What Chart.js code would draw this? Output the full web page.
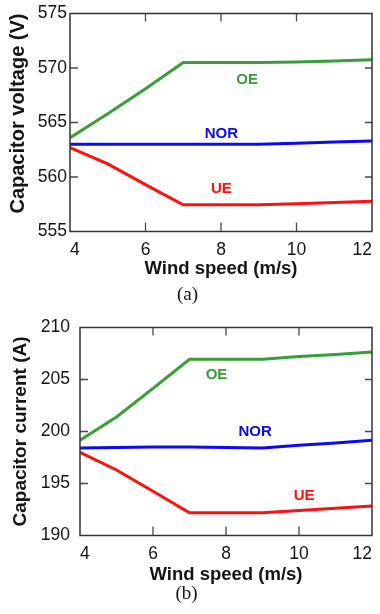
<!DOCTYPE html>
<html>
<head>
<meta charset="utf-8">
<script src="https://cdn.jsdelivr.net/npm/chart.js@4/dist/chart.umd.min.js"></script>
<style>
    body { margin: 0; background: #fff; }
    canvas { display: block; }
</style>
</head>
<body>
<canvas id="voltageChart" width="380" height="307"></canvas>
<canvas id="currentChart" width="380" height="307"></canvas>
<script>
// Wind speed on the x axis, shared by both panels
const windSpeed = [4, 5, 6, 7, 8, 9, 10, 11, 12];
const speedTicks = [4, 6, 8, 10, 12];

// (a) capacitor voltage, V
const voltageOE  = [563.6, 565.8, 568.1, 570.5, 570.5, 570.5, 570.55, 570.65, 570.75];
const voltageNOR = [563.0, 563.0, 563.0, 563.0, 563.0, 563.0, 563.1, 563.2, 563.3];
const voltageUE  = [562.7, 561.2, 559.3, 557.45, 557.45, 557.45, 557.55, 557.67, 557.78];
const voltageTicks = [555, 560, 565, 570, 575];

// (b) capacitor current, A
const currentOE  = [199.15, 201.4, 204.15, 206.95, 206.95, 206.95, 207.2, 207.4, 207.65];
const currentNOR = [198.42, 198.45, 198.5, 198.5, 198.45, 198.42, 198.67, 198.9, 199.15];
const currentUE  = [198.0, 196.3, 194.25, 192.18, 192.18, 192.18, 192.4, 192.62, 192.84];
const currentTicks = [190, 195, 200, 205, 210];

// curve names and where they are written (in data units)
const seriesNames = ['OE', 'NOR', 'UE'];
const seriesColors = ['#36a036', '#0a0af5', '#ff1010'];
const voltageLabelAt = [[8.69, 568.94], [8.01, 563.96], [8.01, 558.89]];
const currentLabelAt = [[7.74, 205.46], [8.8, 199.92], [10.14, 193.8]];

const FONT = "'Liberation Sans', Arial, sans-serif";
const SERIF = "'Liberation Serif', 'Times New Roman', serif";
const INK = '#141414';

// box round the plot with inward tick marks
const framePlugin = {
    id: 'frame',
    afterDatasetsDraw(chart) {
        const { ctx, chartArea: a, scales: { x, y } } = chart;
        ctx.save();
        ctx.strokeStyle = '#4a4a4a';
        ctx.lineWidth = 1.3;
        ctx.beginPath();
        x.ticks.forEach(t => {
            const px = x.getPixelForValue(t.value);
            if (px <= a.left + 1 || px >= a.right - 1) return;
            ctx.moveTo(px, a.bottom);
            ctx.lineTo(px, a.bottom - 9);
            ctx.moveTo(px, a.top);
            ctx.lineTo(px, a.top + 8);
        });
        y.ticks.forEach(t => {
            const py = y.getPixelForValue(t.value);
            if (py <= a.top + 1 || py >= a.bottom - 1) return;
            ctx.moveTo(a.left, py);
            ctx.lineTo(a.left + 8, py);
            ctx.moveTo(a.right, py);
            ctx.lineTo(a.right - 7, py);
        });
        ctx.stroke();
        ctx.strokeStyle = '#333';
        ctx.lineWidth = 1.5;
        ctx.strokeRect(a.left, a.top, a.width, a.height);
        ctx.restore();
    }
};

// curve names written next to the curves
const curveNamesPlugin = {
    id: 'curveNames',
    afterDatasetsDraw(chart, args, opts) {
        const { ctx, scales: { x, y } } = chart;
        ctx.save();
        ctx.font = 'bold 15px ' + FONT;
        ctx.textAlign = 'center';
        ctx.textBaseline = 'middle';
        opts.at.forEach((p, i) => {
            ctx.fillStyle = seriesColors[i];
            ctx.fillText(seriesNames[i], x.getPixelForValue(p[0]), y.getPixelForValue(p[1]));
        });
        ctx.restore();
    }
};

function makeSeries(values) {
    return values.map((v, i) => ({ x: windSpeed[i], y: v }));
}

function buildChart(id, cfg) {
    const datasets = cfg.series.map((values, i) => ({
        label: seriesNames[i],
        data: makeSeries(values),
        borderColor: seriesColors[i],
        borderWidth: 3,
        pointRadius: 0,
        tension: 0,
        fill: false
    }));

    return new Chart(document.getElementById(id), {
        type: 'line',
        data: { datasets },
        plugins: [framePlugin, curveNamesPlugin],
        options: {
            responsive: false,
            animation: false,
            devicePixelRatio: 1,
            layout: { padding: cfg.padding },
            scales: {
                x: {
                    type: 'linear',
                    min: 4,
                    max: 12,
                    afterBuildTicks: s => { s.ticks = speedTicks.map(v => ({ value: v })); },
                    afterFit: s => { s.height = cfg.xHeight; },
                    grid: { display: false, drawTicks: false },
                    border: { display: false },
                    ticks: {
                        align: 'inner',
                        padding: 8,
                        color: INK,
                        font: { family: FONT, size: 17.5 }
                    },
                    title: {
                        display: true,
                        text: 'Wind speed (m/s)',
                        color: INK,
                        font: { family: FONT, size: 18.5, weight: 'bold', lineHeight: 1 },
                        padding: { top: 0, bottom: cfg.xTitlePad }
                    }
                },
                y: {
                    min: cfg.ticks[0],
                    max: cfg.ticks[cfg.ticks.length - 1],
                    afterBuildTicks: s => { s.ticks = cfg.ticks.map(v => ({ value: v })); },
                    afterFit: s => { s.width = cfg.yWidth; },
                    grid: { display: false, drawTicks: false },
                    border: { display: false },
                    ticks: {
                        padding: cfg.yTickPad,
                        color: INK,
                        font: { family: FONT, size: 17.5 }
                    },
                    title: {
                        display: true,
                        text: cfg.yTitle,
                        align: cfg.yTitleAlign,
                        color: INK,
                        font: { family: FONT, size: cfg.yTitleSize, weight: 'bold', lineHeight: 1 },
                        padding: { top: cfg.yTitlePad, bottom: 0 }
                    }
                }
            },
            plugins: {
                legend: { display: false },
                tooltip: { enabled: false },
                title: {
                    display: true,
                    position: 'bottom',
                    text: cfg.caption,
                    color: INK,
                    font: { family: SERIF, size: 19, weight: 'normal', lineHeight: 1 },
                    padding: 0
                },
                curveNames: { at: cfg.labelAt }
            }
        }
    });
}

buildChart('voltageChart', {
    series: [voltageOE, voltageNOR, voltageUE],
    ticks: voltageTicks,
    labelAt: voltageLabelAt,
    yTitle: 'Capacitor voltage (V)',
    yTitleAlign: 'end',
    yTitleSize: 20,
    yTitlePad: 8,
    yWidth: 70,
    yTickPad: 3,
    xHeight: 54,
    xTitlePad: 7.5,
    caption: '(a)',
    padding: { top: 11, right: 5, bottom: 2.5, left: 0 }
});

buildChart('currentChart', {
    series: [currentOE, currentNOR, currentUE],
    ticks: currentTicks,
    labelAt: currentLabelAt,
    yTitle: 'Capacitor current (A)',
    yTitleAlign: 'center',
    yTitleSize: 19,
    yTitlePad: 11,
    yWidth: 80,
    yTickPad: 10,
    xHeight: 49,
    xTitlePad: 0,
    caption: '(b)',
    padding: { top: 16, right: 7, bottom: 10.5, left: 0 }
});
</script>
</body>
</html>
